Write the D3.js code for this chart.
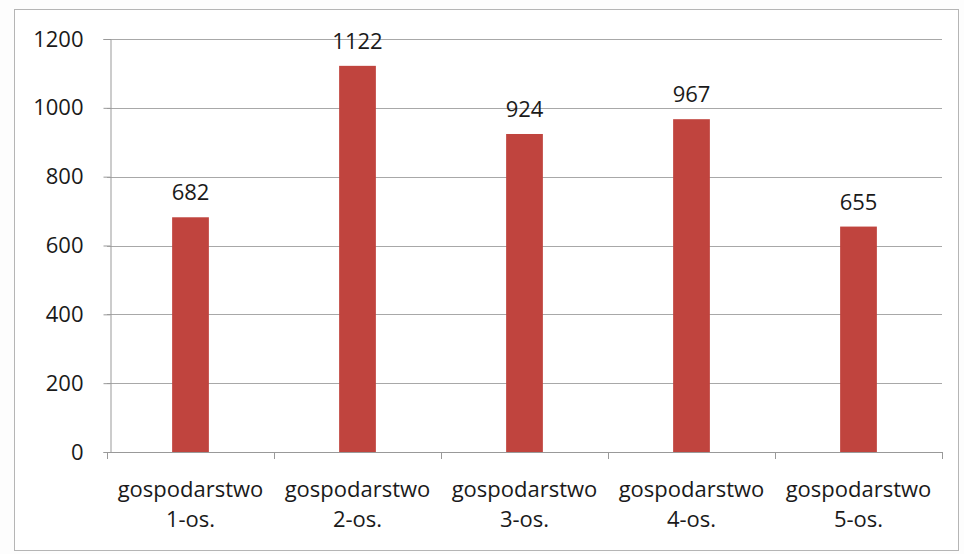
<!DOCTYPE html>
<html>
<head>
<meta charset="utf-8">
<script src="https://cdn.jsdelivr.net/npm/d3@7"></script>
<style>
  body { margin: 0; background: #fdfdfd; }
  text { font-family: "Open Sans", sans-serif; fill: #1a1a1a; }
</style>
</head>
<body>
<div id="chart"></div>
<script>
const categories = ["gospodarstwo 1-os.", "gospodarstwo 2-os.", "gospodarstwo 3-os.", "gospodarstwo 4-os.", "gospodarstwo 5-os."]
const values = [682, 1122, 924, 967, 655]
const yTicks = [0, 200, 400, 600, 800, 1000, 1200]

const width = 964
const height = 554
const margin = {left: 107, right: 22, top: 39, bottom: 102}
const fontSize = "22px"

const svg = d3.select("#chart").append("svg")
    .attr("width", width)
    .attr("height", height)

// outer frame
svg.append("rect")
    .attr("x", 14.5).attr("y", 9.5)
    .attr("width", width - 20).attr("height", height - 13)
    .attr("fill", "#ffffff")
    .attr("stroke", "#b5b5b5")

const x = d3.scaleBand()
    .domain(categories)
    .range([margin.left, width - margin.right])
    .paddingInner(0.78).paddingOuter(0.39)

const xTick = d3.scalePoint()
    .domain(d3.range(categories.length + 1))
    .range([margin.left, width - margin.right])

const y = d3.scaleLinear()
    .domain([0, 1200])
    .range([height - margin.bottom, margin.top])

// gridlines
svg.append("g")
    .selectAll("line")
    .data(yTicks.slice(1))
    .join("line")
    .attr("x1", margin.left).attr("x2", width - margin.right)
    .attr("y1", d => Math.round(y(d)) + 0.5).attr("y2", d => Math.round(y(d)) + 0.5)
    .attr("stroke", "#a8a8a8")

// y axis
const yAxis = svg.append("g")
    .attr("transform", `translate(${margin.left + 3.5},0)`)
    .call(d3.axisLeft(y).tickValues(yTicks).tickFormat(d3.format("d")).tickSize(7).tickPadding(20))
yAxis.select(".domain").attr("stroke", "#999")
yAxis.selectAll(".tick line").attr("stroke", "#999")
yAxis.selectAll("text").style("font-size", fontSize).style("font-family", "'Open Sans', sans-serif").attr("fill", "#1a1a1a")

// bars
svg.append("g")
    .selectAll("rect")
    .data(values)
    .join("rect")
    .attr("x", (d, i) => x(categories[i]))
    .attr("width", x.bandwidth())
    .attr("y", d => y(d))
    .attr("height", d => y(0) - y(d))
    .attr("fill", "#c0443e")

// value labels
svg.append("g")
    .selectAll("text")
    .data(values)
    .join("text")
    .attr("x", (d, i) => x(categories[i]) + x.bandwidth() / 2)
    .attr("y", d => y(d) - 17)
    .attr("text-anchor", "middle")
    .style("font-size", fontSize)
    .text(d => d)

// x axis line and ticks
const xa = svg.append("g")
xa.append("line")
    .attr("x1", margin.left).attr("x2", width - margin.right)
    .attr("y1", y(0) + 0.5).attr("y2", y(0) + 0.5)
    .attr("stroke", "#999")
xa.selectAll(".xt")
    .data(d3.range(categories.length + 1))
    .join("line")
    .attr("class", "xt")
    .attr("x1", d => xTick(d) + 0.5).attr("x2", d => xTick(d) + 0.5)
    .attr("y1", y(0)).attr("y2", y(0) + 7)
    .attr("stroke", "#999")

// category labels (two lines)
const cat = svg.append("g")
    .selectAll("text")
    .data(categories)
    .join("text")
    .attr("text-anchor", "middle")
    .style("font-size", fontSize)
cat.selectAll("tspan")
    .data(d => { const p = d.split(" "); return p.map(t => ({t, c: d})) })
    .join("tspan")
    .attr("x", d => x(d.c) + x.bandwidth() / 2)
    .attr("y", (d, i) => y(0) + 45 + i * 30)
    .text(d => d.t)
</script>
</body>
</html>
